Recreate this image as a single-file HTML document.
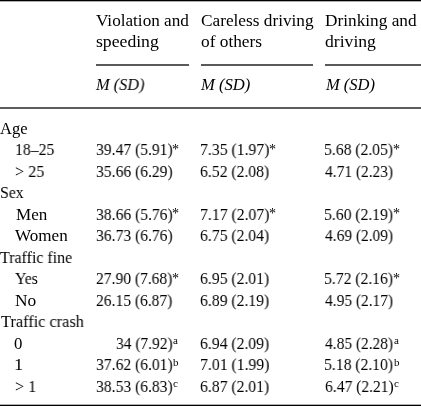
<!DOCTYPE html><html><head><meta charset='utf-8'><style>

html,body{margin:0;padding:0;background:#fff;}
body{width:421px;height:406px;position:relative;overflow:hidden;font-family:"Liberation Serif",serif;font-size:16.5px;color:#000;}
.t{position:absolute;white-space:nowrap;line-height:normal;transform-origin:0 0;will-change:transform;}
.r{position:absolute;}
.ast{position:absolute;white-space:nowrap;line-height:normal;font-size:14px;will-change:transform;}
.sup{position:absolute;white-space:nowrap;line-height:normal;font-size:11px;will-change:transform;}
i{font-style:italic;}

</style></head><body>
<div class="r" style="left:0;top:0;width:421px;height:1px;background:#000"></div>
<div class="r" style="left:0;top:1px;width:421px;height:1px;background:#afafaf"></div>
<div class="r" style="left:96px;top:64px;width:93px;height:2px;background:#5a5a5a"></div>
<div class="r" style="left:201px;top:64px;width:112px;height:2px;background:#5a5a5a"></div>
<div class="r" style="left:325px;top:64px;width:96px;height:2px;background:#5a5a5a"></div>
<div class="r" style="left:0;top:107px;width:421px;height:2px;background:#5c5c5c"></div>
<div class="r" style="left:0;top:404px;width:421px;height:1px;background:#afafaf"></div>
<div class="r" style="left:0;top:405px;width:421px;height:1px;background:#000"></div>
<div class="t" style="left:95.82px;top:11.30px;transform:scaleX(1.0400)">Violation and</div>
<div class="t" style="left:96.02px;top:32.30px;transform:scaleX(1.0703)">speeding</div>
<div class="t" style="left:201.19px;top:11.30px;transform:scaleX(1.0459)">Careless driving</div>
<div class="t" style="left:200.93px;top:32.30px;transform:scaleX(1.0492)">of others</div>
<div class="t" style="left:325.09px;top:11.30px;transform:scaleX(1.0465)">Drinking and</div>
<div class="t" style="left:325.00px;top:32.30px;transform:scaleX(1.0680)">driving</div>
<div class="t" style="left:95.75px;top:74.90px;transform:scaleX(0.9907)"><i>M (SD)</i></div>
<div class="t" style="left:200.75px;top:74.90px;transform:scaleX(1.0067)"><i>M (SD)</i></div>
<div class="t" style="left:325.54px;top:74.90px;transform:scaleX(0.9989)"><i>M (SD)</i></div>
<div class="t" style="left:0.11px;top:118.80px;transform:scaleX(1.0023)">Age</div>
<div class="t" style="left:14.69px;top:140.28px;transform:scaleX(0.9537)">18–25</div>
<div class="t" style="left:95.51px;top:140.28px;transform:scaleX(0.9465)">39.47 (5.91)</div>
<div class="t" style="left:199.77px;top:140.28px;transform:scaleX(0.9539)">7.35 (1.97)</div>
<div class="t" style="left:323.76px;top:140.28px;transform:scaleX(0.9489)">5.68 (2.05)</div>
<div class="t" style="left:15.15px;top:161.76px;transform:scaleX(0.9787)">&gt; 25</div>
<div class="t" style="left:95.51px;top:161.76px;transform:scaleX(0.9465)">35.66 (6.29)</div>
<div class="t" style="left:200.22px;top:161.76px;transform:scaleX(0.9508)">6.52 (2.08)</div>
<div class="t" style="left:324.75px;top:161.76px;transform:scaleX(0.9353)">4.71 (2.23)</div>
<div class="t" style="left:-0.28px;top:183.24px;transform:scaleX(0.9545)">Sex</div>
<div class="t" style="left:15.54px;top:204.72px;transform:scaleX(1.0350)">Men</div>
<div class="t" style="left:95.51px;top:204.72px;transform:scaleX(0.9465)">38.66 (5.76)</div>
<div class="t" style="left:199.77px;top:204.72px;transform:scaleX(0.9539)">7.17 (2.07)</div>
<div class="t" style="left:323.76px;top:204.72px;transform:scaleX(0.9489)">5.60 (2.19)</div>
<div class="t" style="left:15.37px;top:226.20px;transform:scaleX(1.0345)">Women</div>
<div class="t" style="left:95.51px;top:226.20px;transform:scaleX(0.9465)">36.73 (6.76)</div>
<div class="t" style="left:200.22px;top:226.20px;transform:scaleX(0.9508)">6.75 (2.04)</div>
<div class="t" style="left:324.75px;top:226.20px;transform:scaleX(0.9353)">4.69 (2.09)</div>
<div class="t" style="left:0.40px;top:247.68px;transform:scaleX(0.9675)">Traffic fine</div>
<div class="t" style="left:15.30px;top:269.16px;transform:scaleX(0.9543)">Yes</div>
<div class="t" style="left:96.24px;top:269.16px;transform:scaleX(0.9423)">27.90 (7.68)</div>
<div class="t" style="left:200.22px;top:269.16px;transform:scaleX(0.9508)">6.95 (2.01)</div>
<div class="t" style="left:323.76px;top:269.16px;transform:scaleX(0.9489)">5.72 (2.16)</div>
<div class="t" style="left:15.48px;top:290.64px;transform:scaleX(1.0509)">No</div>
<div class="t" style="left:96.24px;top:290.64px;transform:scaleX(0.9423)">26.15 (6.87)</div>
<div class="t" style="left:200.22px;top:290.64px;transform:scaleX(0.9508)">6.89 (2.19)</div>
<div class="t" style="left:324.75px;top:290.64px;transform:scaleX(0.9353)">4.95 (2.17)</div>
<div class="t" style="left:0.50px;top:312.12px;transform:scaleX(0.9899)">Traffic crash</div>
<div class="t" style="left:14.41px;top:333.60px;transform:scaleX(1.0160)">0</div>
<div class="t" style="left:115.52px;top:333.60px;transform:scaleX(0.9368)">34 (7.92)</div>
<div class="t" style="left:200.22px;top:333.60px;transform:scaleX(0.9508)">6.94 (2.09)</div>
<div class="t" style="left:324.75px;top:333.60px;transform:scaleX(0.9353)">4.85 (2.28)</div>
<div class="t" style="left:14.21px;top:355.08px;transform:scaleX(1.1179)">1</div>
<div class="t" style="left:95.51px;top:355.08px;transform:scaleX(0.9465)">37.62 (6.01)</div>
<div class="t" style="left:199.77px;top:355.08px;transform:scaleX(0.9539)">7.01 (1.99)</div>
<div class="t" style="left:323.76px;top:355.08px;transform:scaleX(0.9489)">5.18 (2.10)</div>
<div class="t" style="left:14.86px;top:376.56px;transform:scaleX(0.9764)">&gt; 1</div>
<div class="t" style="left:95.51px;top:376.56px;transform:scaleX(0.9465)">38.53 (6.83)</div>
<div class="t" style="left:200.22px;top:376.56px;transform:scaleX(0.9508)">6.87 (2.01)</div>
<div class="t" style="left:325.24px;top:376.56px;transform:scaleX(0.9439)">6.47 (2.21)</div>
<div class="ast" style="left:171.93px;top:141.71px">*</div>
<div class="ast" style="left:268.92px;top:141.71px">*</div>
<div class="ast" style="left:393.12px;top:141.71px">*</div>
<div class="ast" style="left:171.93px;top:206.15px">*</div>
<div class="ast" style="left:268.92px;top:206.15px">*</div>
<div class="ast" style="left:393.12px;top:206.15px">*</div>
<div class="ast" style="left:171.93px;top:270.59px">*</div>
<div class="ast" style="left:393.12px;top:270.59px">*</div>
<div class="sup" style="left:172.98px;top:334.30px">a</div>
<div class="sup" style="left:394.18px;top:334.30px">a</div>
<div class="sup" style="left:172.98px;top:355.78px">b</div>
<div class="sup" style="left:394.18px;top:355.78px">b</div>
<div class="sup" style="left:172.98px;top:377.26px">c</div>
<div class="sup" style="left:394.18px;top:377.26px">c</div>
</body></html>
